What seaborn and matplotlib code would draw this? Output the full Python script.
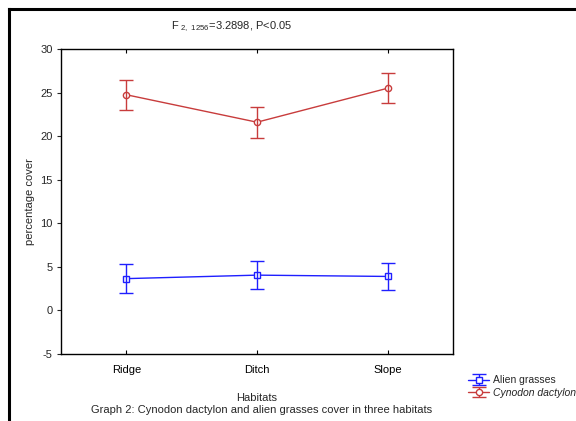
import matplotlib
matplotlib.use("Agg")
import matplotlib.pyplot as plt
import seaborn as sns
import pandas as pd
import numpy as np
from matplotlib.lines import Line2D

habitats = ["Ridge", "Ditch", "Slope"]
alien_mean = [3.65, 4.05, 3.9]
alien_err = [1.7, 1.6, 1.55]
cyn_mean = [24.75, 21.6, 25.5]
cyn_err = [1.7, 1.8, 1.7]
series_names = ["Alien grasses", "Cynodon dactylon"]
yticks = [-5, 0, 5, 10, 15, 20, 25, 30]

sns.set_style("white")
plt.rcParams["font.family"] = ["Liberation Sans", "DejaVu Sans"]
plt.rcParams["mathtext.fontset"] = "custom"
plt.rcParams["mathtext.rm"] = "Liberation Sans"
plt.rcParams["axes.unicode_minus"] = False

df = pd.DataFrame({
    "habitat": habitats * 2,
    "pos": list(range(3)) * 2,
    "value": alien_mean + cyn_mean,
    "err": alien_err + cyn_err,
    "series": [series_names[0]] * 3 + [series_names[1]] * 3,
})

blue = "#1f1fff"
red = "#c83c3c"
colors = {series_names[0]: blue, series_names[1]: red}
markers = {series_names[0]: "s", series_names[1]: "o"}

fig = plt.figure(figsize=(5.76, 4.21), dpi=100)
ax = fig.add_axes([61 / 576, 1 - 354 / 421, (453 - 61) / 576, (354 - 49) / 421])

handles = []
for name in series_names:
    sub = df[df["series"] == name]
    sns.lineplot(data=sub, x="pos", y="value", ax=ax, color=colors[name],
                 marker=markers[name], markersize=4.5, markerfacecolor="white",
                 markeredgecolor=colors[name], markeredgewidth=1.0,
                 linewidth=1.0, legend=False)
    eb = ax.errorbar(sub["pos"], sub["value"], yerr=sub["err"], fmt="none",
                     ecolor=colors[name], elinewidth=1.0, capsize=5, capthick=1.0)
    proxy = Line2D([], [], color=colors[name], marker=markers[name], markersize=4.5,
                   markerfacecolor="white", markeredgecolor=colors[name], linewidth=1.0)
    handles.append((eb, proxy))

ax.set_xlim(-0.5, 2.5)
ax.set_ylim(-5, 30)
ax.set_xticks(range(3))
ax.set_xticklabels(habitats)
ax.set_yticks(yticks)
ax.tick_params(axis="x", direction="in", top=True, bottom=True, length=3, width=0.8,
               labelsize=8, pad=8, colors="black")
ax.tick_params(axis="y", direction="out", left=True, length=3, width=0.8,
               labelsize=8, pad=3)
for s in ax.spines.values():
    s.set_color("black")
    s.set_linewidth(1.0)
ax.set_xlabel("Habitats", fontsize=8, labelpad=13)
ax.set_ylabel("percentage cover", fontsize=8, labelpad=4)

fig.text(232 / 576, 1 - 27 / 421, r"F$_{\mathregular{\ 2,\ 1256}}$=3.2898, P<0.05",
         ha="center", va="center", fontsize=8)
fig.text(262 / 576, 1 - 410 / 421,
         "Graph 2: Cynodon dactylon and alien grasses cover in three habitats",
         ha="center", va="center", fontsize=8)

leg = fig.legend(handles, series_names, loc="upper left",
                 bbox_to_anchor=(463 / 576, 1 - 370 / 421), frameon=False,
                 fontsize=7.5, handlelength=2.0, handletextpad=0.35,
                 labelspacing=0.25, borderpad=0)
leg.get_texts()[1].set_style("italic")

fig.add_artist(Line2D([9 / 576, 9 / 576], [0, 1 - 9 / 421], color="black",
                      linewidth=2.2, transform=fig.transFigure,
                      solid_capstyle="projecting"))
fig.add_artist(Line2D([9 / 576, 1], [1 - 9 / 421, 1 - 9 / 421], color="black",
                      linewidth=2.2, transform=fig.transFigure,
                      solid_capstyle="projecting"))

fig.savefig("out.png", dpi=100)
